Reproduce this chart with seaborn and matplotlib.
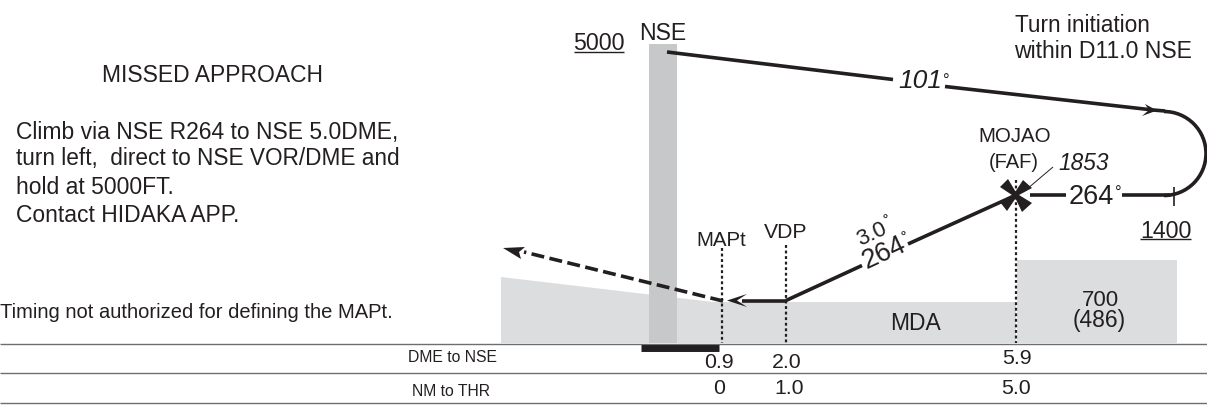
import matplotlib
matplotlib.use("Agg")
import matplotlib.pyplot as plt
from matplotlib.patches import Arc
import seaborn as sns
import pandas as pd

sns.set_theme(style="white")
plt.rcParams['font.family'] = ['Liberation Sans', 'DejaVu Sans']

INK = "#231f20"
RULE = "#6d6e71"
TERRAIN = "#dcddde"
NSE_BAND = "#c6c8ca"

# chart geometry (horizontal = picture x, vertical = picture y)
outbound_x = [667, 893]; outbound_y = [52, 79.5]
outbound2_x = [945, 1153]; outbound2_y = [86.5, 110]
turn_lead_x = [1153, 1165]; turn_lead_y = [110, 111]
turn_center = (1164, 153.5)
turn_diameter = 84
inbound1_x = [1030, 1066]; inbound1_y = [195, 195]
inbound2_x = [1122, 1170]; inbound2_y = [195, 195]
descent1_x = [908, 1014]; descent1_y = [244, 196]
descent2_x = [786, 862]; descent2_y = [300.5, 265.5]
level_x = [786, 742]; level_y = [300.5, 300.5]
missed_x = [723, 524]; missed_y = [301, 252]
mapt_x = [721.5, 721.5]; mapt_y = [248, 343]
vdp_x = [786, 786]; vdp_y = [245, 343]
faf_x = [1015.5, 1015.5]; faf_y = [180, 343]
leader_x = [1053, 1027]; leader_y = [167, 189]
fix_tick_x = [1173.5, 1173.5]; fix_tick_y = [187, 206]
rule_x = [0, 1207]
rule_ys = [343.5, 373, 403]
u5000_x = [574, 624]; u5000_y = [52, 52]
u1400_x = [1140, 1191]; u1400_y = [239, 239]
dme_bar_x = [641, 719]; dme_bar_y = [347.5, 347.5]

terrain_x = [501, 713, 1016, 1016, 501]; terrain_y = [277, 302, 302, 343, 343]
step_x = [1017, 1177, 1177, 1017]; step_y = [260, 260, 343, 343]
band_x = [649, 677, 677, 649]; band_y = [44, 44, 343, 343]
cross_x = [1008, 1015.5, 1023, 1032, 1019, 1032, 1022, 1015.5, 1007, 1000, 1012, 1000]
cross_y = [179, 191.5, 180, 188, 195, 203, 212, 198.5, 211, 202, 195, 187]
head_missed_x = [503, 525, 519, 521]; head_missed_y = [248, 247, 252, 259]
head_level_x = [727, 747, 737, 747]; head_level_y = [300.5, 294, 300.5, 307]
head_out_x = [1157, 1145, 1149, 1142]; head_out_y = [110.5, 104, 110, 116]

# text, x, y, size, align, rotation, style
labels = [
    ("MISSED APPROACH", 213, 75, 16.5, "center", 0, "normal"),
    ("Climb via NSE R264 to NSE 5.0DME,", 16, 132, 16.5, "left", 0, "normal"),
    ("turn left,  direct to NSE VOR/DME and", 16, 159, 16.3, "left", 0, "normal"),
    ("hold at 5000FT.", 16, 187, 16.5, "left", 0, "normal"),
    ("Contact HIDAKA APP.", 16, 215, 16.5, "left", 0, "normal"),
    ("Timing not authorized for defining the MAPt.", 0, 313, 14.5, "left", 0, "normal"),
    ("DME to NSE", 452, 358, 11.3, "center", 0, "normal"),
    ("NM to THR", 451, 391, 11.3, "center", 0, "normal"),
    ("5000", 599, 44, 16.7, "center", 0, "normal"),
    ("NSE", 663, 34, 16.6, "center", 0, "normal"),
    ("1400", 1165.5, 231, 16.7, "center", 0, "normal"),
    ("Turn initiation", 1015, 25, 16.3, "left", 0, "normal"),
    ("within D11.0 NSE", 1014, 52, 16.6, "left", 0, "normal"),
    ("101", 920, 81, 19, "center", 0, "italic"),
    ("°", 946, 81, 12, "center", 0, "normal"),
    ("MOJAO", 1015, 136, 14.8, "center", 0, "normal"),
    ("(FAF)", 1014, 163, 14.5, "center", 0, "normal"),
    ("1853", 1084, 163, 16.3, "center", 0, "italic"),
    ("264", 1091, 197, 19.5, "center", 0, "normal"),
    ("°", 1118, 193, 12, "center", 0, "normal"),
    ("3.0", 872, 234, 16, "center", 25, "normal"),
    ("°", 887, 220, 11, "center", 25, "normal"),
    ("264", 884, 253, 19.5, "center", 25, "normal"),
    ("°", 905, 237, 11, "center", 25, "normal"),
    ("MAPt", 721, 240, 14.8, "center", 0, "normal"),
    ("VDP", 786, 233, 15.2, "center", 0, "normal"),
    ("MDA", 915, 323, 16.5, "center", 0, "normal"),
    ("700", 1100, 300, 16, "center", 0, "normal"),
    ("(486)", 1099, 321, 16.5, "center", 0, "normal"),
    ("0.9", 719, 362, 15.3, "center", 0, "normal"),
    ("2.0", 787, 362, 15.3, "center", 0, "normal"),
    ("5.9", 1017, 359, 15.3, "center", 0, "normal"),
    ("0", 719, 389, 15.3, "center", 0, "normal"),
    ("1.0", 789, 389, 15.3, "center", 0, "normal"),
    ("5.0", 1016, 388, 15.3, "center", 0, "normal"),
]

fig = plt.figure(figsize=(12.07, 4.05), dpi=100)
ax = fig.add_axes([0, 0, 1, 1])


def path(xs, ys, lw=2.6, color=INK, dashes=None, zorder=3):
    frame = pd.DataFrame({"x": xs, "y": ys})
    sns.lineplot(data=frame, x="x", y="y", sort=False, estimator=None, errorbar=None,
                 color=color, linewidth=lw, ax=ax, zorder=zorder,
                 legend=False)
    line = ax.lines[-1]
    line.set_solid_capstyle("butt")
    if dashes is not None:
        line.set_linestyle((0, dashes))
        line.set_dash_capstyle("butt")
    return line


ax.fill(terrain_x, terrain_y, color=TERRAIN, lw=0, zorder=1)
ax.fill(step_x, step_y, color=TERRAIN, lw=0, zorder=1)
ax.fill(band_x, band_y, color=NSE_BAND, lw=0, zorder=2)

for y in rule_ys:
    path(rule_x, [y, y], lw=1.0, color=RULE, zorder=2)
path(dme_bar_x, dme_bar_y, lw=5.0, color=INK, zorder=4)

path(outbound_x, outbound_y)
path(outbound2_x, outbound2_y)
path(turn_lead_x, turn_lead_y)
ax.add_patch(Arc(turn_center, turn_diameter, turn_diameter, theta1=-90, theta2=90,
                 color=INK, lw=2.6, zorder=3))
path(inbound1_x, inbound1_y)
path(inbound2_x, inbound2_y)
path(descent1_x, descent1_y)
path(descent2_x, descent2_y)
path(level_x, level_y)
path(missed_x, missed_y, dashes=(3.6, 1.5))
path(mapt_x, mapt_y, lw=1.6, dashes=(1.3, 1.2))
path(vdp_x, vdp_y, lw=1.6, dashes=(1.3, 1.2))
path(faf_x, faf_y, lw=1.6, dashes=(1.3, 1.2))
path(leader_x, leader_y, lw=0.7)
path(fix_tick_x, fix_tick_y, lw=1.2)
path(u5000_x, u5000_y, lw=1.0)
path(u1400_x, u1400_y, lw=1.0)

ax.fill(cross_x, cross_y, color=INK, lw=0, zorder=5)
ax.fill(head_missed_x, head_missed_y, color=INK, lw=0, zorder=5)
ax.fill(head_level_x, head_level_y, color=INK, lw=0, zorder=5)
ax.fill(head_out_x, head_out_y, color=INK, lw=0, zorder=5)

for text, x, y, size, ha, rot, style in labels:
    ax.text(x, y, text, fontsize=size, ha=ha, va="center", rotation=rot, style=style,
            color=INK, rotation_mode="anchor", zorder=6)

ax.set_xlim(0, 1207)
ax.set_ylim(405, 0)
ax.set_xlabel("")
ax.set_ylabel("")
ax.axis("off")
fig.savefig("out.png", dpi=100, facecolor="white")
